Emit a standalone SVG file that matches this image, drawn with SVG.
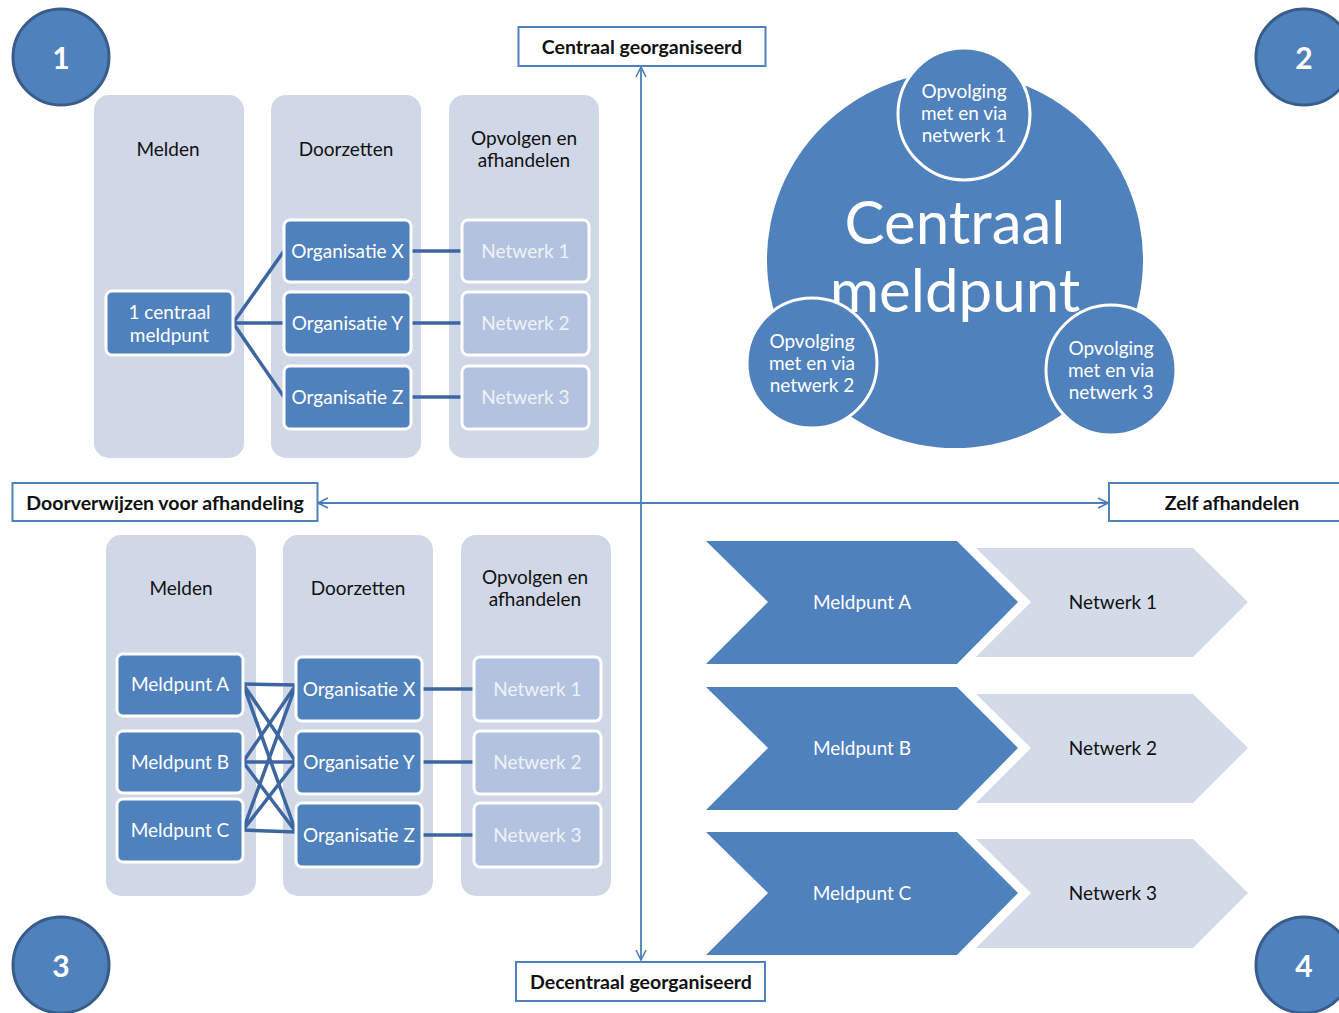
<svg xmlns="http://www.w3.org/2000/svg" width="1339" height="1013" viewBox="0 0 1339 1013">
<defs>
<style>
text{font-family:Lato,"Liberation Sans",sans-serif;text-anchor:middle;dominant-baseline:central}
.num{fill:#4f81bd;stroke:#385d8a;stroke-width:3}
.numt{fill:#fff;font-weight:bold;font-size:30px}
.col{fill:#d0d8e8}
.colt{fill:#111;font-size:19px}
.dk{fill:#4f81bd;stroke:#fff;stroke-width:3}
.dkt{fill:#fff;font-size:19px}
.lt{fill:#b3c3df;stroke:#fff;stroke-width:3}
.ltt{fill:#eef2f8;font-size:19px}
.lbl{fill:#fff;stroke:#4f81bd;stroke-width:2}
.lblt{fill:#111;font-weight:bold;font-size:19.5px}
.ln{stroke:#3d66a0;stroke-width:3.5;fill:none}
.axis{stroke:#4a7ebb;stroke-width:1.8;fill:none}
.chd{fill:#4f81bd}
.chl{fill:#d3dbe8}
.cht{fill:#fff;font-size:19px}
.chlt{fill:#111;font-size:19px}
.sc{fill:#4f81bd;stroke:#fff;stroke-width:3}
.sct{fill:#fff;font-size:19px}
</style>
<marker id="arr" viewBox="0 0 12 12" refX="11" refY="6" markerWidth="12" markerHeight="12" markerUnits="userSpaceOnUse" orient="auto-start-reverse">
<path d="M1,1 L11,6 L1,11" fill="none" stroke="#4a7ebb" stroke-width="1.6"/>
</marker>
</defs>

<g id="connectors">
<line class="axis" x1="641" y1="960" x2="641" y2="67" marker-end="url(#arr)" marker-start="url(#arr)"/>
<line class="axis" x1="1108" y1="503" x2="318" y2="503" marker-end="url(#arr)" marker-start="url(#arr)"/>
</g>

<g id="badge-1"><circle class="num" cx="61" cy="57" r="48"/><text class="numt" x="61" y="57">1</text></g>
<g id="badge-2"><circle class="num" cx="1304" cy="57" r="48"/><text class="numt" x="1304" y="57">2</text></g>
<g id="badge-3"><circle class="num" cx="61" cy="965" r="48"/><text class="numt" x="61" y="965">3</text></g>
<g id="badge-4"><circle class="num" cx="1304" cy="965" r="48"/><text class="numt" x="1304" y="965">4</text></g>

<g id="label-top"><rect class="lbl" x="518.5" y="27" width="247" height="39"/><text class="lblt" x="642" y="46.5">Centraal georganiseerd</text></g>
<g id="label-left"><rect class="lbl" x="12.5" y="483" width="305" height="38"/><text class="lblt" x="165" y="502">Doorverwijzen voor afhandeling</text></g>
<g id="label-right"><rect class="lbl" x="1109" y="483" width="240" height="38"/><text class="lblt" x="1232" y="502">Zelf afhandelen</text></g>
<g id="label-bottom"><rect class="lbl" x="516" y="962" width="249" height="39"/><text class="lblt" x="641" y="981.5">Decentraal georganiseerd</text></g>

<!-- Quadrant 1 -->
<g id="q1-col-melden"><rect class="col" x="94" y="95" width="150" height="363" rx="15"/><text class="colt" x="168" y="148">Melden</text></g>
<g id="q1-col-doorzetten"><rect class="col" x="271" y="95" width="150" height="363" rx="15"/><text class="colt" x="346" y="148">Doorzetten</text></g>
<g id="q1-col-opvolgen"><rect class="col" x="449" y="95" width="150" height="363" rx="15"/><text class="colt" x="524" y="137">Opvolgen en</text><text class="colt" x="524" y="159">afhandelen</text></g>

<g id="q1-connectors">
<line class="ln" x1="233" y1="323" x2="284" y2="251"/>
<line class="ln" x1="233" y1="323" x2="284" y2="323"/>
<line class="ln" x1="233" y1="323" x2="284" y2="397"/>
<line class="ln" x1="411" y1="251" x2="462" y2="251"/>
<line class="ln" x1="411" y1="323" x2="462" y2="323"/>
<line class="ln" x1="411" y1="397" x2="462" y2="397"/>
</g>

<g id="q1-centraal"><rect class="dk" x="106" y="291" width="127" height="64" rx="6"/><text class="dkt" x="169.5" y="311">1 centraal</text><text class="dkt" x="169.5" y="334">meldpunt</text></g>
<g id="q1-org-x"><rect class="dk" x="284" y="220" width="127" height="62" rx="6"/><text class="dkt" x="347.5" y="250">Organisatie X</text></g>
<g id="q1-org-y"><rect class="dk" x="284" y="292" width="127" height="63" rx="6"/><text class="dkt" x="347.5" y="322">Organisatie Y</text></g>
<g id="q1-org-z"><rect class="dk" x="284" y="366" width="127" height="63" rx="6"/><text class="dkt" x="347.5" y="396">Organisatie Z</text></g>
<g id="q1-net-1"><rect class="lt" x="462" y="220" width="127" height="62" rx="6"/><text class="ltt" x="525.5" y="250">Netwerk 1</text></g>
<g id="q1-net-2"><rect class="lt" x="462" y="292" width="127" height="63" rx="6"/><text class="ltt" x="525.5" y="322">Netwerk 2</text></g>
<g id="q1-net-3"><rect class="lt" x="462" y="366" width="127" height="63" rx="6"/><text class="ltt" x="525.5" y="396">Netwerk 3</text></g>

<!-- Quadrant 2 -->
<g id="q2-central"><circle fill="#4f81bd" cx="955" cy="260" r="188"/><text fill="#fff" font-size="60" x="955" y="221">Centraal</text><text fill="#fff" font-size="60" x="955" y="289">meldpunt</text></g>
<g id="q2-net-1"><circle class="sc" cx="964" cy="114" r="66"/><text class="sct" x="964" y="90">Opvolging</text><text class="sct" x="964" y="112">met en via</text><text class="sct" x="964" y="134">netwerk 1</text></g>
<g id="q2-net-2"><circle class="sc" cx="812" cy="363" r="65"/><text class="sct" x="812" y="340">Opvolging</text><text class="sct" x="812" y="362">met en via</text><text class="sct" x="812" y="384">netwerk 2</text></g>
<g id="q2-net-3"><circle class="sc" cx="1111" cy="370" r="65"/><text class="sct" x="1111" y="347">Opvolging</text><text class="sct" x="1111" y="369">met en via</text><text class="sct" x="1111" y="391">netwerk 3</text></g>

<!-- Quadrant 3 -->
<g id="q3-col-melden"><rect class="col" x="106" y="535" width="150" height="361" rx="15"/><text class="colt" x="181" y="587">Melden</text></g>
<g id="q3-col-doorzetten"><rect class="col" x="283" y="535" width="150" height="361" rx="15"/><text class="colt" x="358" y="587">Doorzetten</text></g>
<g id="q3-col-opvolgen"><rect class="col" x="461" y="535" width="150" height="361" rx="15"/><text class="colt" x="535" y="576">Opvolgen en</text><text class="colt" x="535" y="598">afhandelen</text></g>

<g id="q3-connectors">
<line class="ln" x1="243" y1="684" x2="296" y2="685"/>
<line class="ln" x1="243" y1="684" x2="296" y2="762"/>
<line class="ln" x1="243" y1="684" x2="296" y2="832"/>
<line class="ln" x1="243" y1="762" x2="296" y2="685"/>
<line class="ln" x1="243" y1="762" x2="296" y2="762"/>
<line class="ln" x1="243" y1="762" x2="296" y2="832"/>
<line class="ln" x1="243" y1="830" x2="296" y2="685"/>
<line class="ln" x1="243" y1="830" x2="296" y2="762"/>
<line class="ln" x1="243" y1="830" x2="296" y2="832"/>
<line class="ln" x1="421" y1="689" x2="474" y2="689"/>
<line class="ln" x1="421" y1="762" x2="474" y2="762"/>
<line class="ln" x1="421" y1="835" x2="474" y2="835"/>
</g>

<g id="q3-meld-a"><rect class="dk" x="117" y="654" width="126" height="62" rx="6"/><text class="dkt" x="180" y="683">Meldpunt A</text></g>
<g id="q3-meld-b"><rect class="dk" x="117" y="731" width="126" height="62" rx="6"/><text class="dkt" x="180" y="761">Meldpunt B</text></g>
<g id="q3-meld-c"><rect class="dk" x="117" y="799" width="126" height="63" rx="6"/><text class="dkt" x="180" y="829">Meldpunt C</text></g>
<g id="q3-org-x"><rect class="dk" x="296" y="657" width="126" height="64" rx="6"/><text class="dkt" x="359" y="688">Organisatie X</text></g>
<g id="q3-org-y"><rect class="dk" x="296" y="731" width="126" height="63" rx="6"/><text class="dkt" x="359" y="761">Organisatie Y</text></g>
<g id="q3-org-z"><rect class="dk" x="296" y="803" width="126" height="64" rx="6"/><text class="dkt" x="359" y="834">Organisatie Z</text></g>
<g id="q3-net-1"><rect class="lt" x="474" y="657" width="127" height="64" rx="6"/><text class="ltt" x="537.5" y="688">Netwerk 1</text></g>
<g id="q3-net-2"><rect class="lt" x="474" y="731" width="127" height="63" rx="6"/><text class="ltt" x="537.5" y="761">Netwerk 2</text></g>
<g id="q3-net-3"><rect class="lt" x="474" y="803" width="127" height="64" rx="6"/><text class="ltt" x="537.5" y="834">Netwerk 3</text></g>

<!-- Quadrant 4 -->
<g id="q4-net-1"><polygon class="chl" points="976,548 1193,548 1248,602 1193,657 976,657 1031,602"/><text class="chlt" x="1113" y="601">Netwerk 1</text></g>
<g id="q4-meld-a"><polygon class="chd" points="706,541 957,541 1018,602 957,664 706,664 768,602"/><text class="cht" x="862" y="601">Meldpunt A</text></g>
<g id="q4-net-2"><polygon class="chl" points="976,694 1193,694 1248,748 1193,803 976,803 1031,748"/><text class="chlt" x="1113" y="747">Netwerk 2</text></g>
<g id="q4-meld-b"><polygon class="chd" points="706,687 957,687 1018,748 957,810 706,810 768,748"/><text class="cht" x="862" y="747">Meldpunt B</text></g>
<g id="q4-net-3"><polygon class="chl" points="976,839 1193,839 1248,893 1193,948 976,948 1031,893"/><text class="chlt" x="1113" y="892">Netwerk 3</text></g>
<g id="q4-meld-c"><polygon class="chd" points="706,832 957,832 1018,893 957,955 706,955 768,893"/><text class="cht" x="862" y="892">Meldpunt C</text></g>
</svg>
